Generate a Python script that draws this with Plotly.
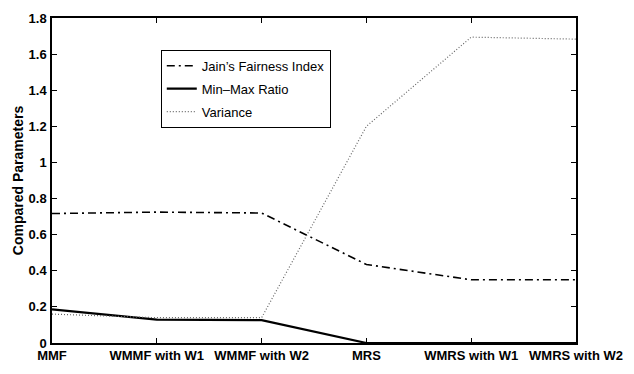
import plotly.graph_objects as go

categories = ["MMF", "WMMF with W1", "WMMF with W2", "MRS", "WMRS with W1", "WMRS with W2"]
jain = [0.717, 0.725, 0.72, 0.435, 0.35, 0.35]
minmax = [0.186, 0.13, 0.127, 0.0, 0.0, 0.0]
variance = [0.16, 0.14, 0.14, 1.2, 1.694, 1.683]
y_ticks = [0, 0.2, 0.4, 0.6, 0.8, 1, 1.2, 1.4, 1.6, 1.8]
y_ticktext = ["0", "0.2", "0.4", "0.6", "0.8", "1", "1.2", "1.4", "1.6", "1.8"]

FONT = "Liberation Sans, Arial"

fig = go.Figure()
fig.add_trace(go.Scatter(x=categories, y=jain, mode="lines", name="Jain\u2019s Fairness Index",
                         legendgroup="a", line=dict(color="black", width=1.6, dash="8px,4px,2px,4px")))
fig.add_trace(go.Scatter(x=categories, y=minmax, mode="lines", name="Min\u2013Max Ratio",
                         legendgroup="b", line=dict(color="black", width=2.2)))
fig.add_trace(go.Scatter(x=categories, y=variance, mode="lines", name="Variance",
                         legendgroup="c", line=dict(color="#666666", width=1.2, dash="1px,2px")))

axis_common = dict(showline=True, linecolor="black", linewidth=1.5, mirror="ticks",
                   ticks="inside", ticklen=5, tickcolor="black", showgrid=False, zeroline=False,
                   tickfont=dict(family=FONT, size=13, color="black", weight="bold"))

fig.update_layout(
    width=634, height=374,
    margin=dict(l=52, r=57, t=11, b=24),
    plot_bgcolor="white", paper_bgcolor="white",
    font=dict(family=FONT, size=12, color="black"),
    xaxis=dict(type="category", range=[0, 5], categoryorder="array", categoryarray=categories,
               ticklabelstandoff=0, **axis_common),
    yaxis=dict(range=[0, 1.8], tickvals=y_ticks, ticktext=y_ticktext,
               title=dict(text="Compared Parameters", font=dict(family=FONT, size=14, weight="bold"), standoff=2),
               ticklabelstandoff=1, **axis_common),
    legend=dict(x=0.2076, y=0.902, xanchor="left", yanchor="top",
                bordercolor="black", borderwidth=1, bgcolor="white",
                font=dict(family=FONT, size=13), tracegroupgap=3, traceorder="grouped"),
    showlegend=True,
)

fig.write_html("out.html")
